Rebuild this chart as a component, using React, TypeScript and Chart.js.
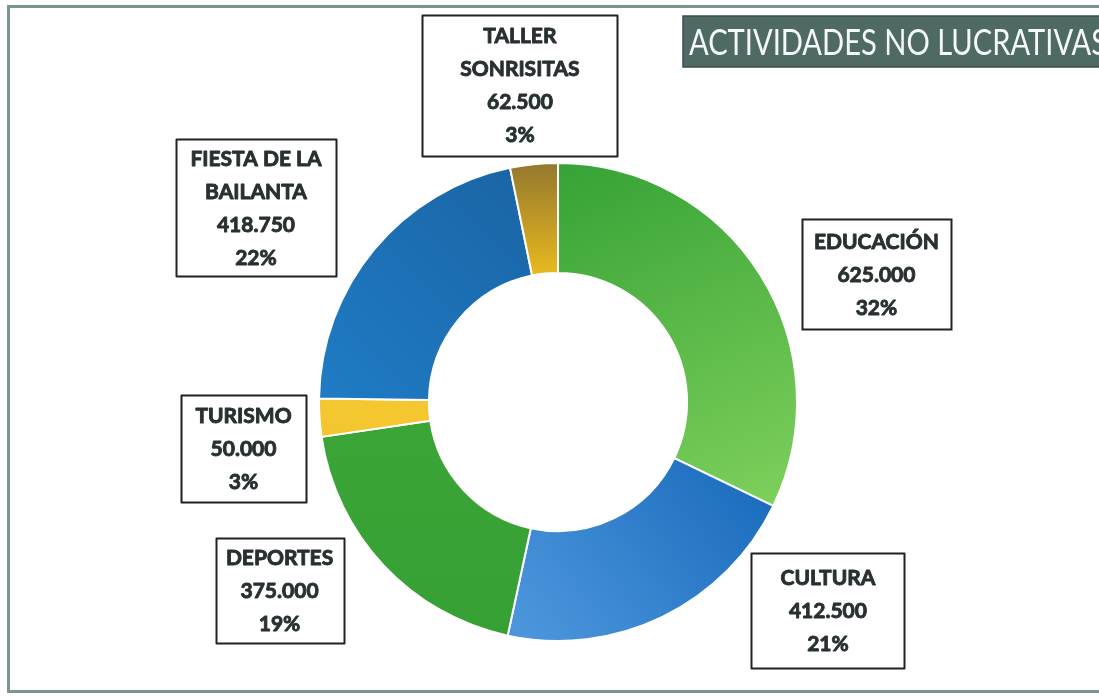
import React, { useEffect, useRef } from "react";
import { Chart, registerables } from "chart.js";

Chart.register(...registerables);

// ---- data ----
const categories: string[][] = [
  ["EDUCACIÓN"],
  ["CULTURA"],
  ["DEPORTES"],
  ["TURISMO"],
  ["FIESTA DE LA", "BAILANTA"],
  ["TALLER", "SONRISITAS"],
];
const amounts: number[] = [625000, 412500, 375000, 50000, 418750, 62500];
const chartTitle = "ACTIVIDADES NO LUCRATIVAS";

// ---- styling / layout ----
// gradient stops per segment: [from, to]
const segmentColors: [string, string][] = [
  ["#36a236", "#85d45f"],
  ["#1b6dbd", "#4c95dc"],
  ["#40aa3c", "#37a034"],
  ["#f6cb34", "#f2c22c"],
  ["#1a62a2", "#1f7cc5"],
  ["#93772f", "#f7c51c"],
];
// offset of each label box centre from the outer edge of its arc midpoint, and box size
const boxOffsets: [number, number][] = [
  [116, -1],
  [165, -6],
  [-104, 25],
  [-76, 31],
  [-118, -42],
  [-14, -79],
];
const boxSizes: [number, number][] = [
  [149, 110],
  [153, 115],
  [128, 105],
  [125, 107],
  [160, 137],
  [195, 141],
];

function fmt(n: number): string {
  return String(n).replace(/\B(?=(\d{3})+(?!\d))/g, ".");
}

const W = 1099;
const H = 697;

export default function App() {
  const ref = useRef<HTMLCanvasElement | null>(null);

  useEffect(() => {
    const canvas = ref.current;
    if (!canvas) return;
    const total = amounts.reduce((a, b) => a + b, 0);

    const decor = {
      id: "decor",
      beforeDraw(chart: any) {
        const ctx = chart.ctx as CanvasRenderingContext2D;
        ctx.save();
        ctx.fillStyle = "#ffffff";
        ctx.fillRect(0, 0, W, H);
        // outer frame
        ctx.strokeStyle = "#7a978d";
        ctx.lineWidth = 3;
        ctx.strokeRect(8.5, 6.5, W + 20, 685);
        // title box
        ctx.fillStyle = "#4f6a65";
        ctx.fillRect(683, 16, W - 683 + 10, 51);
        ctx.strokeStyle = "#3a4d49";
        ctx.lineWidth = 1.5;
        ctx.strokeRect(683, 16, W - 683 + 10, 51);
        ctx.fillStyle = "#f4f8f8";
        ctx.font = "36px Lato";
        ctx.textBaseline = "alphabetic";
        ctx.textAlign = "left";
        const tw = ctx.measureText(chartTitle).width;
        const target = 418;
        ctx.translate(689, 55);
        ctx.scale(target / tw, 1);
        ctx.fillText(chartTitle, 0, 0);
        ctx.restore();
      },
      afterDraw(chart: any) {
        const ctx = chart.ctx as CanvasRenderingContext2D;
        const meta = chart.getDatasetMeta(0);
        ctx.save();
        meta.data.forEach((arc: any, i: number) => {
          const p = arc.getProps(["x", "y", "startAngle", "endAngle", "outerRadius"], true);
          const mid = (p.startAngle + p.endAngle) / 2;
          const ex = p.x + Math.cos(mid) * p.outerRadius;
          const ey = p.y + Math.sin(mid) * p.outerRadius;
          const cxb = ex + boxOffsets[i][0];
          const cyb = ey + boxOffsets[i][1];
          const [bw, bh] = boxSizes[i];
          const bx = Math.round(cxb - bw / 2) + 0.5;
          const by = Math.round(cyb - bh / 2) + 0.5;
          ctx.fillStyle = "#ffffff";
          ctx.fillRect(bx, by, bw, bh);
          ctx.strokeStyle = "#1e2322";
          ctx.lineWidth = 2;
          ctx.strokeRect(bx, by, bw, bh);
          const lines = [
            ...categories[i],
            fmt(amounts[i]),
            Math.round((amounts[i] / total) * 100) + "%",
          ];
          const lh = 33;
          ctx.fillStyle = "#283032";
          ctx.strokeStyle = "#283032";
          ctx.lineWidth = 0.9;
          ctx.lineJoin = "round";
          ctx.font = "bold 21px Lato";
          ctx.textAlign = "center";
          ctx.textBaseline = "middle";
          const startY = cyb - ((lines.length - 1) * lh) / 2 + 1;
          lines.forEach((t, k) => {
            ctx.fillText(t, cxb, startY + k * lh);
            ctx.strokeText(t, cxb, startY + k * lh);
          });
        });
        ctx.restore();
      },
    };

    const chart = new Chart(canvas, {
      type: "doughnut",
      data: {
        labels: categories,
        datasets: [
          {
            data: amounts,
            borderColor: "#ffffff",
            borderWidth: 2,
            backgroundColor: (c: any) => {
              const chart = c.chart;
              const area = chart.chartArea;
              const i = c.dataIndex;
              const [c1, c2] = segmentColors[i];
              if (!area) return c1;
              const cx = (area.left + area.right) / 2;
              const cy = (area.top + area.bottom) / 2;
              const r = Math.min(area.right - area.left, area.bottom - area.top) / 2;
              const ctx = chart.ctx as CanvasRenderingContext2D;
              let g: CanvasGradient;
              if (i === 0) g = ctx.createLinearGradient(cx, cy - r, cx + r * 0.7, cy + r * 0.7);
              else if (i === 1) g = ctx.createLinearGradient(cx + r * 0.8, cy + r * 0.3, cx - r * 0.1, cy + r);
              else if (i === 4) g = ctx.createLinearGradient(cx, cy - r, cx - r, cy);
              else if (i === 5) g = ctx.createLinearGradient(cx, cy - r, cx, cy - r * 0.45);
              else g = ctx.createLinearGradient(cx, cy - r, cx, cy + r);
              g.addColorStop(0, c1);
              g.addColorStop(1, c2);
              return g;
            },
          },
        ],
      },
      options: {
        animation: false,
        responsive: false,
        cutout: "54%",
        layout: {
          padding: { left: 318, right: 301, top: 162, bottom: 55 },
        },
        plugins: {
          legend: { display: false },
          tooltip: { enabled: false },
          title: { display: false },
        },
      },
      plugins: [decor],
    });
    return () => chart.destroy();
  }, []);

  return (
    <div style={{ position: "fixed", left: 0, top: 0, width: W, height: H }}>
      <canvas ref={ref} width={W} height={H} style={{ width: W, height: H, display: "block" }} />
    </div>
  );
}
